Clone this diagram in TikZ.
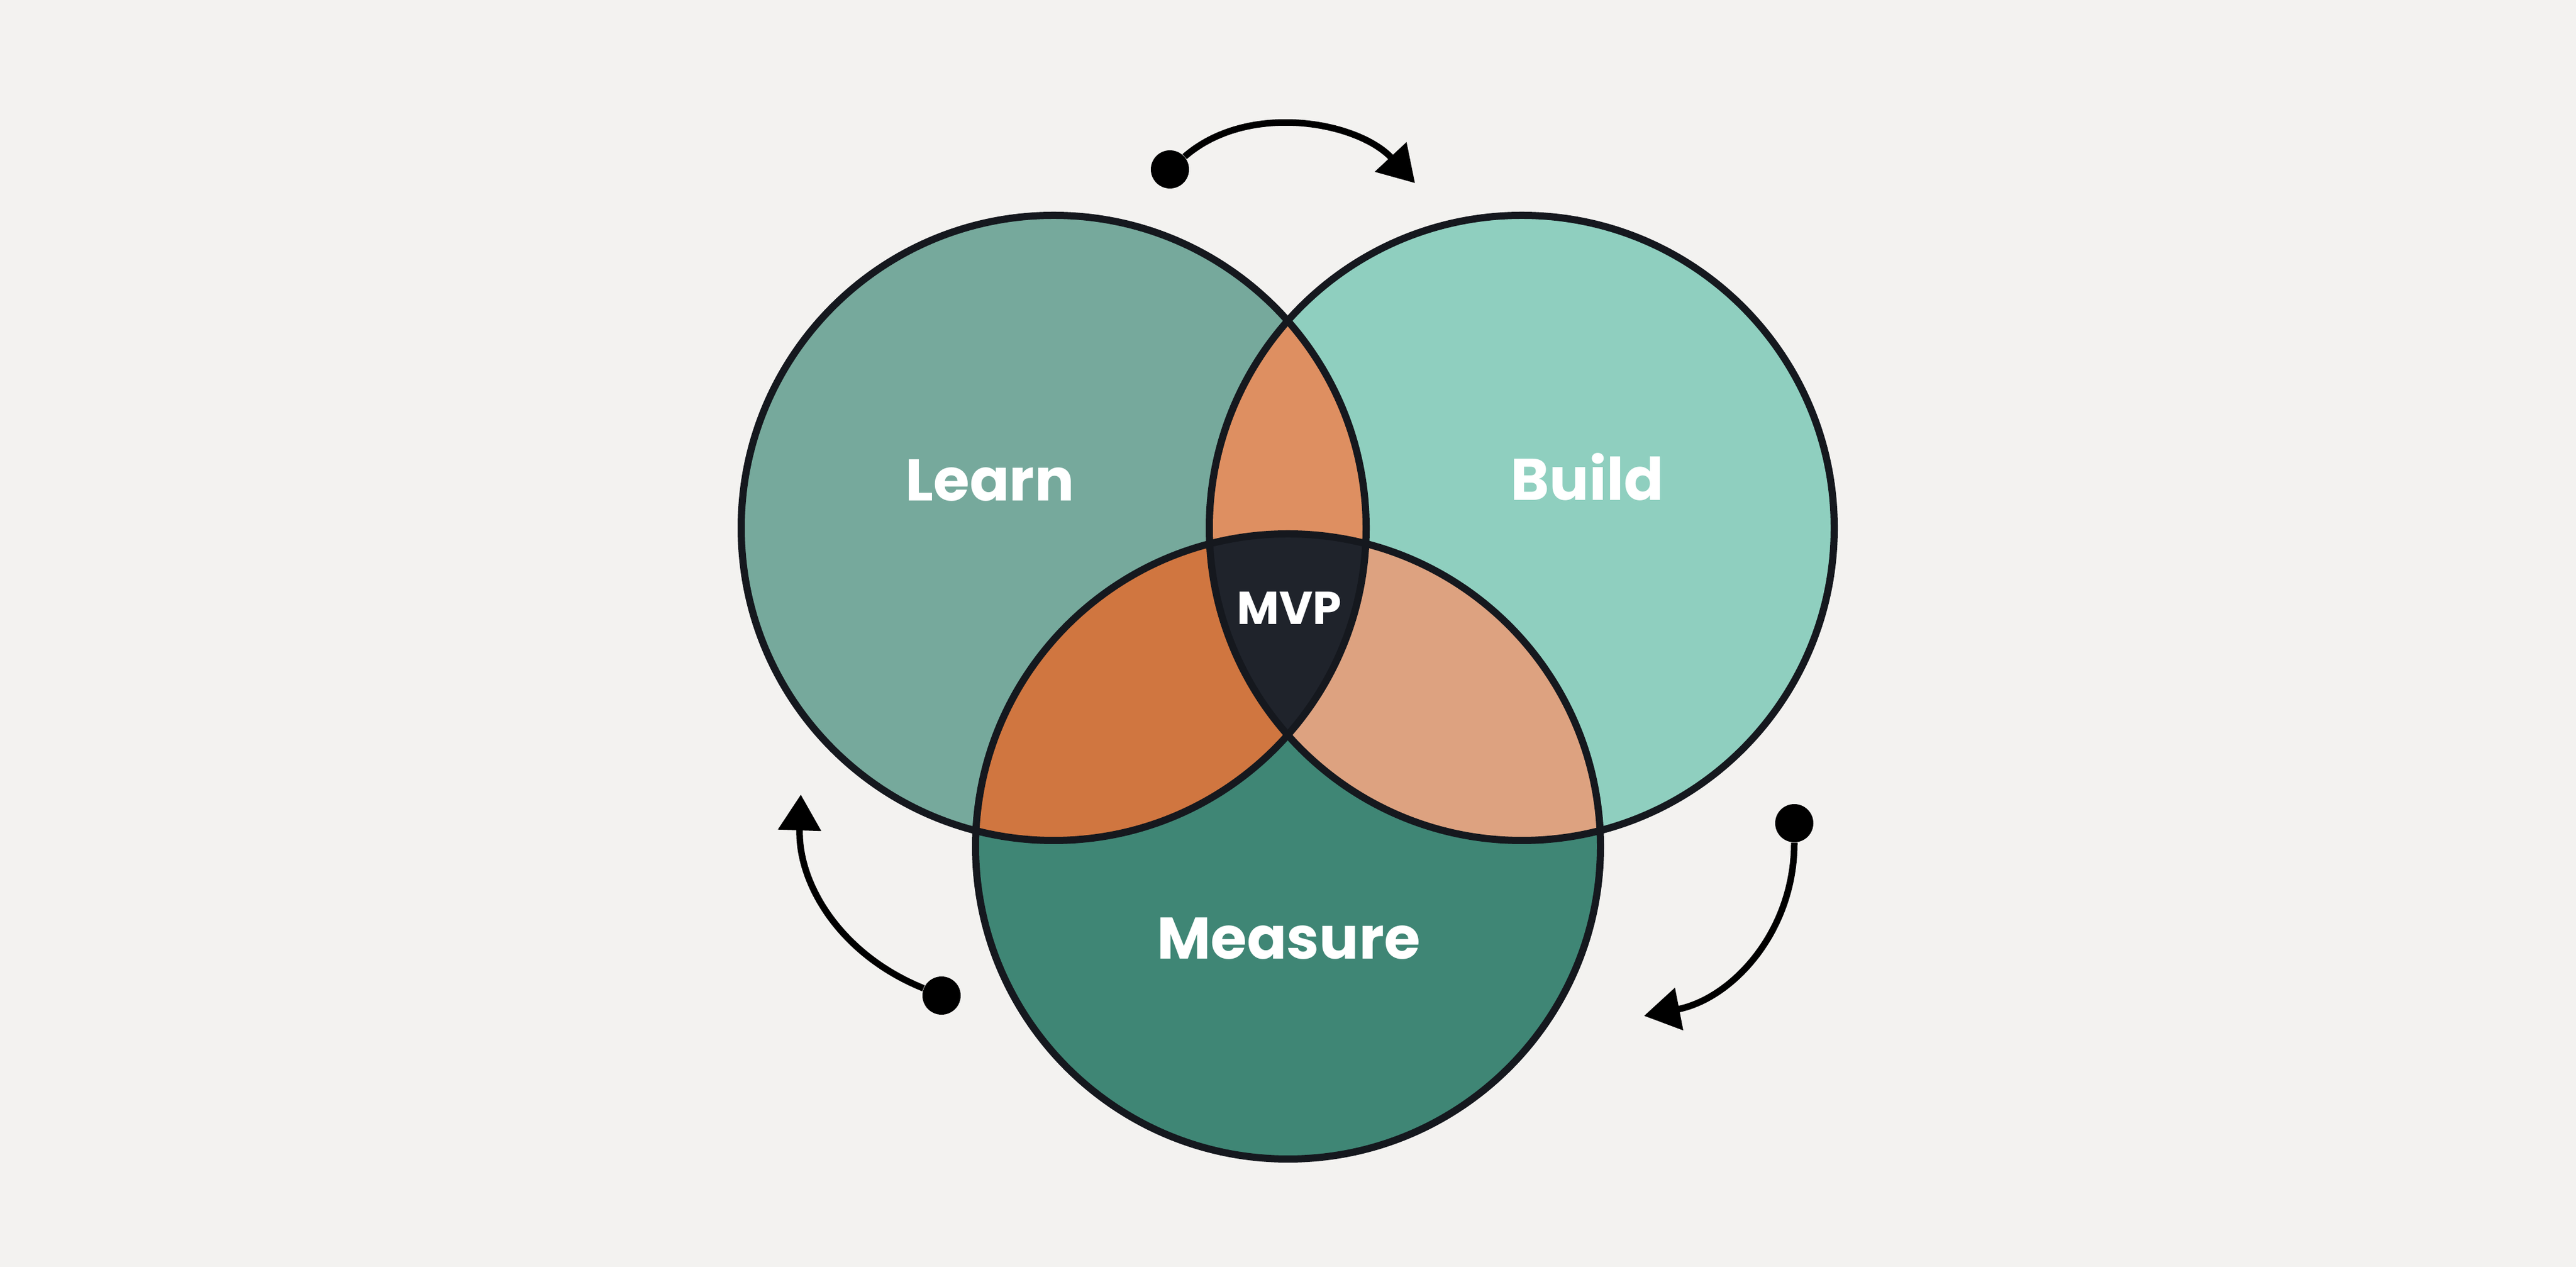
\documentclass[tikz,border=0pt]{standalone}
\usepackage{xcolor}
\usepackage{tikz}
\usetikzlibrary{shapes, arrows.meta, positioning}
\usepackage{fontspec}
\newfontfamily\vennfont{Poppins}

\definecolor{bgcol}{HTML}{F3F2F0}
\definecolor{learncol}{HTML}{76A99C}
\definecolor{buildcol}{HTML}{8FCFBF}
\definecolor{measurecol}{HTML}{3F8675}
\definecolor{lbcol}{HTML}{DE8F61}
\definecolor{lmcol}{HTML}{D07640}
\definecolor{bmcol}{HTML}{DDA280}
\definecolor{mvpcol}{HTML}{1F232B}
\definecolor{edgecol}{HTML}{15181E}

\begin{document}
\begin{tikzpicture}[
    ring/.style={draw=edgecol, line width=0.12cm},
    venntext/.style={text=white, anchor=base, font=\vennfont\bfseries\fontsize{28}{28}\selectfont},
    flowdot/.style={circle, fill=black, minimum size=0.64cm, inner sep=0pt},
    flow/.style={line width=0.11cm, -{Triangle[length=0.6cm, width=0.7cm]}}
]
    \useasboundingbox (0,0) rectangle (43.2,21.24);
    \fill[bgcol] (0,0) rectangle (43.2,21.24);

    % circle centres
    \coordinate (learn) at (17.67,12.39);
    \coordinate (build) at (25.52,12.39);
    \coordinate (measure) at (21.60,7.05);

    \fill[learncol] (learn) circle (5.24);
    \fill[buildcol] (build) circle (5.24);
    \fill[measurecol] (measure) circle (5.24);

    % overlaps
    \begin{scope}
        \clip (learn) circle (5.24);
        \fill[lbcol] (build) circle (5.24);
        \fill[lmcol] (measure) circle (5.24);
    \end{scope}
    \begin{scope}
        \clip (build) circle (5.24);
        \fill[bmcol] (measure) circle (5.24);
        \clip (learn) circle (5.24);
        \fill[mvpcol] (measure) circle (5.24);
    \end{scope}

    \draw[ring] (learn) circle (5.24);
    \draw[ring] (build) circle (5.24);
    \draw[ring] (measure) circle (5.24);

    \node[venntext] (learntext) at (16.60,12.84) {Learn};
    \node[venntext] (buildtext) at (26.62,12.85) {Build};
    \node[venntext] (measuretext) at (21.61,5.16) {Measure};
    \node[venntext, font=\vennfont\bfseries\fontsize{22}{22}\selectfont] (mvptext) at (21.62,10.77) {MVP};

    % cycle arrows
    \node[flowdot] (topdot) at (19.62,18.40) {};
    \coordinate (toptip) at (23.73,18.17);
    \draw[flow] (topdot) to[out=41, in=133, looseness=0.93] (toptip);

    \node[flowdot] (rightdot) at (30.09,7.44) {};
    \coordinate (righttip) at (27.57,4.21);
    \draw[flow] (rightdot) to[out=-90, in=11] (righttip);

    \node[flowdot] (leftdot) at (15.79,4.55) {};
    \coordinate (lefttip) at (13.43,7.92);
    \draw[flow] (leftdot) to[out=158, in=-92] (lefttip);
\end{tikzpicture}
\end{document}
